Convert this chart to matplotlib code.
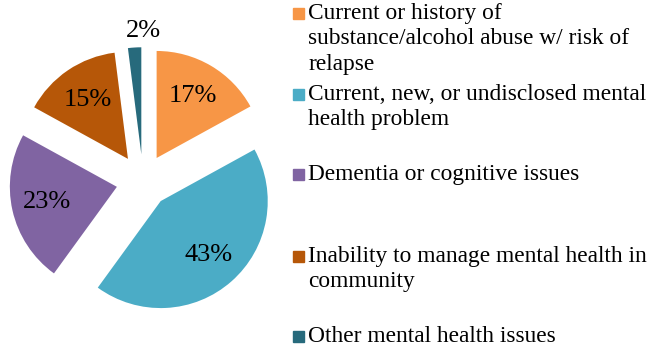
import numpy as np
import matplotlib.pyplot as plt
from matplotlib.patches import Rectangle

labels = [
    "Current or history of\nsubstance/alcohol abuse w/ risk of\nrelapse",
    "Current, new, or undisclosed mental\nhealth problem",
    "Dementia or cognitive issues",
    "Inability to manage mental health in\ncommunity",
    "Other mental health issues",
]
shares = [17, 43, 23, 15, 2]
colors = ["#F79646", "#4BACC6", "#8064A2", "#B65708", "#276A7C"]

plt.rcParams['font.family'] = ['Liberation Serif', 'DejaVu Serif']

W, H = 647, 346
fig = plt.figure(figsize=(W / 100, H / 100), dpi=100)

# pie axes: center at (143, 181) px from top-left, radius 107 px
ax = fig.add_axes([0, 0, 286 / W, 330 / H])
wedges, texts, autotexts = ax.pie(
    shares, colors=colors, startangle=90, counterclock=False,
    explode=[0.25] * len(shares), radius=1.0,
    autopct='%d%%', pctdistance=0.67,
    wedgeprops=dict(linewidth=0),
    textprops=dict(fontsize=19, color='black'))
ax.set_xlim(-1.336, 1.336)
ax.set_ylim(-1.542, 1.542)
ax.set_aspect('auto')

# the small slice gets its label just above it, outside the pie
cx, cy = wedges[4].center
autotexts[4].set_position((cx + 0.02, cy + 1.15))

# legend drawn by hand so entries sit at even spacing
def fx(px):
    return px / W

def fy(py):
    return 1 - py / H

rows = [13, 94, 174, 256, 336]
for lab, col, yc in zip(labels, colors, rows):
    fig.patches.append(Rectangle((fx(293), fy(yc + 5.5)), 11 / W, 11 / H,
                                 transform=fig.transFigure, color=col))
    fig.text(fx(308), fy(yc - 10), lab, fontsize=16.8, va='top', ha='left',
             linespacing=1.27, color='black')

fig.savefig('out.png', dpi=100)
